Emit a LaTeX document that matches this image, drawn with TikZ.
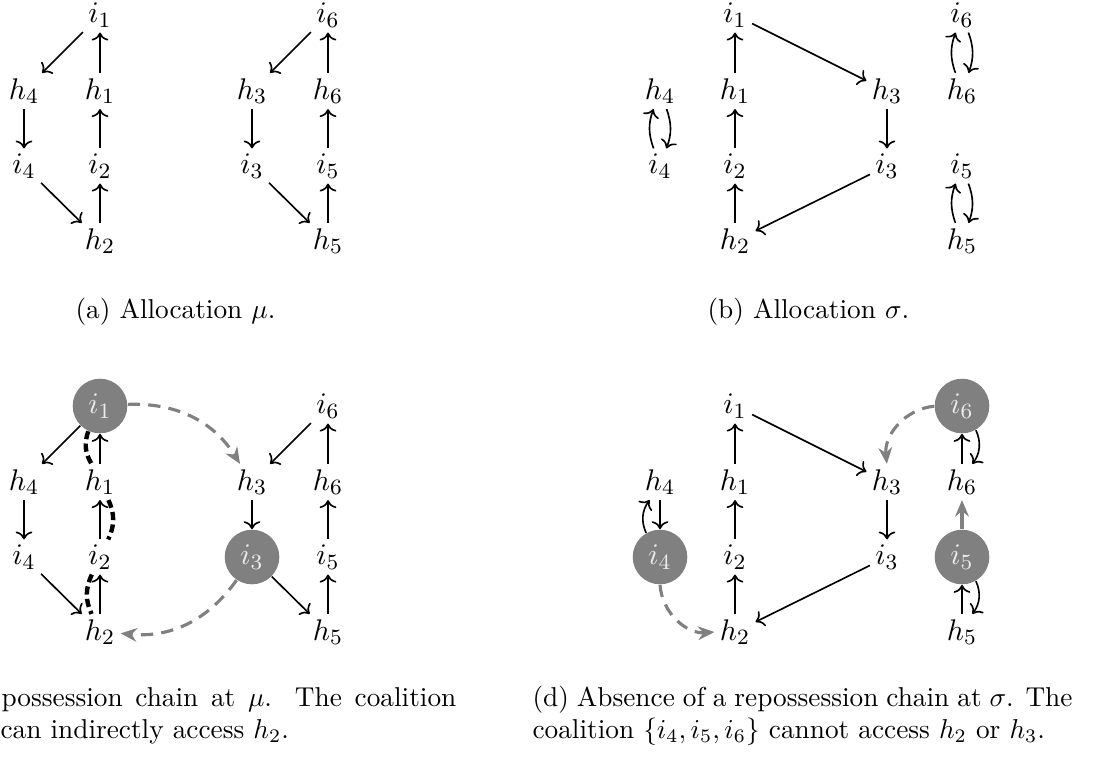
\documentclass[tikz,border=0pt]{standalone}
\usetikzlibrary{arrows.meta}
\begin{document}
\begin{tikzpicture}[x=0.3663pt,y=0.3663pt,
  every node/.style={font=\fontsize{11}{13}\selectfont, inner sep=1.8pt},
  ar/.style={->, line width=0.6pt},
  agent/.style={circle, fill=gray, text=white!85!gray, minimum size=20pt, inner sep=0pt},
  gd/.style={gray, line width=1.15pt, dash pattern=on 4.5pt off 3pt, -{Stealth[length=6pt,width=5pt]}},
  gs/.style={gray, line width=1.15pt, -{Stealth[length=6pt,width=5pt]}},
  chain/.style={line width=1.6pt, dash pattern=on 3pt off 1.6pt},
  captxt/.style={anchor=base west, inner sep=0pt, font=\fontsize{10}{12}\selectfont}]
\useasboundingbox (0,0) rectangle (1107,-757);
% ---------- (a)
\node (ai1) at (100,-15) {$i_1$};
\node (ah4) at (24,-91) {$h_4$};
\node (ah1) at (100,-91) {$h_1$};
\node (ai4) at (24,-166) {$i_4$};
\node (ai2) at (100,-166) {$i_2$};
\node (ah2) at (100,-241) {$h_2$};
\node (ai6) at (328,-15) {$i_6$};
\node (ah3) at (252,-91) {$h_3$};
\node (ah6) at (328,-91) {$h_6$};
\node (ai3) at (252,-166) {$i_3$};
\node (ai5) at (328,-166) {$i_5$};
\node (ah5) at (328,-241) {$h_5$};
\draw[ar] (ai1) -- (ah4);
\draw[ar] (ah1) -- (ai1);
\draw[ar] (ah4) -- (ai4);
\draw[ar] (ai2) -- (ah1);
\draw[ar] (ai4) -- (ah2);
\draw[ar] (ah2) -- (ai2);
\draw[ar] (ai6) -- (ah3);
\draw[ar] (ah6) -- (ai6);
\draw[ar] (ah3) -- (ai3);
\draw[ar] (ai5) -- (ah6);
\draw[ar] (ai3) -- (ah5);
\draw[ar] (ah5) -- (ai5);
\node[captxt] (capa) at (75,-318) {(a) Allocation $\mu$.};
% ---------- (b)
\node (bh4) at (660,-91) {$h_4$};
\node (bi4) at (660,-166) {$i_4$};
\node (bi1) at (735,-15) {$i_1$};
\node (bh1) at (735,-91) {$h_1$};
\node (bi2) at (735,-166) {$i_2$};
\node (bh2) at (735,-241) {$h_2$};
\node (bh3) at (887,-91) {$h_3$};
\node (bi3) at (887,-166) {$i_3$};
\node (bi6) at (962,-15) {$i_6$};
\node (bh6) at (962,-91) {$h_6$};
\node (bi5) at (962,-166) {$i_5$};
\node (bh5) at (962,-241) {$h_5$};
\draw[ar] (bh1) -- (bi1);
\draw[ar] (bi1) -- (bh3);
\draw[ar] (bh3) -- (bi3);
\draw[ar] (bi3) -- (bh2);
\draw[ar] (bh2) -- (bi2);
\draw[ar] (bi2) -- (bh1);
\draw[ar] (bh4) to[bend left=20] (bi4);
\draw[ar] (bi4) to[bend left=20] (bh4);
\draw[ar] (bi6) to[bend left=20] (bh6);
\draw[ar] (bh6) to[bend left=20] (bi6);
\draw[ar] (bi5) to[bend left=20] (bh5);
\draw[ar] (bh5) to[bend left=20] (bi5);
\node[captxt] (capb) at (707,-318) {(b) Allocation $\sigma$.};
% ---------- (c)
\node[agent] (ci1) at (100,-406) {$i_1$};
\node (ch4) at (24,-482) {$h_4$};
\node (ch1) at (100,-482) {$h_1$};
\node (ci4) at (24,-557) {$i_4$};
\node (ci2) at (100,-557) {$i_2$};
\node (ch2) at (100,-632) {$h_2$};
\node (ci6) at (328,-406) {$i_6$};
\node (ch3) at (252,-482) {$h_3$};
\node (ch6) at (328,-482) {$h_6$};
\node[agent] (ci3) at (252,-557) {$i_3$};
\node (ci5) at (328,-557) {$i_5$};
\node (ch5) at (328,-632) {$h_5$};
\draw[ar] (ci1) -- (ch4);
\draw[ar] (ch1) -- (ci1);
\draw[ar] (ch4) -- (ci4);
\draw[ar] (ci2) -- (ch1);
\draw[ar] (ci4) -- (ch2);
\draw[ar] (ch2) -- (ci2);
\draw[ar] (ci6) -- (ch3);
\draw[ar] (ch6) -- (ci6);
\draw[ar] (ch3) -- (ci3);
\draw[ar] (ci5) -- (ch6);
\draw[ar] (ci3) -- (ch5);
\draw[ar] (ch5) -- (ci5);
\draw[gd] (ci1) to[bend left=30] (ch3);
\draw[gd] (ci3) to[bend left=30] (ch2);
\draw[chain] (ci1) to[bend right=25] (ch1);
\draw[chain] (ch1) to[bend left=25] (ci2);
\draw[chain] (ci2) to[bend right=25] (ch2);
\node[captxt] (capc1) at (1,-706) {\makebox[166.6pt][s]{possession chain at $\mu$. The coalition}};
\node[captxt] (capc2) at (0,-738) {can indirectly access $h_2$.};
% ---------- (d)
\node (dh4) at (660,-482) {$h_4$};
\node[agent] (di4) at (660,-557) {$i_4$};
\node (di1) at (735,-406) {$i_1$};
\node (dh1) at (735,-482) {$h_1$};
\node (di2) at (735,-557) {$i_2$};
\node (dh2) at (735,-632) {$h_2$};
\node (dh3) at (887,-482) {$h_3$};
\node (di3) at (887,-557) {$i_3$};
\node[agent] (di6) at (962,-406) {$i_6$};
\node (dh6) at (962,-482) {$h_6$};
\node[agent] (di5) at (962,-557) {$i_5$};
\node (dh5) at (962,-632) {$h_5$};
\draw[ar] (dh1) -- (di1);
\draw[ar] (di1) -- (dh3);
\draw[ar] (dh3) -- (di3);
\draw[ar] (di3) -- (dh2);
\draw[ar] (dh2) -- (di2);
\draw[ar] (di2) -- (dh1);
\draw[ar] (dh4) -- (di4);
\draw[ar] (di4) to[bend left=30] (dh4);
\draw[ar] (dh6) -- (di6);
\draw[ar] (di6) to[bend left=30] (dh6);
\draw[ar] (dh5) -- (di5);
\draw[ar] (di5) to[bend left=30] (dh5);
\draw[gs] (di5) -- (dh6);
\draw[gd] (di6) to[bend right=45] (dh3);
\draw[gd] (di4) to[bend right=45] (dh2);
\node[captxt] (capd1) at (532,-706) {\makebox[197.8pt][s]{(d) Absence of a repossession chain at $\sigma$. The}};
\node[captxt] (capd2) at (532,-738) {coalition $\{i_4,i_5,i_6\}$ cannot access $h_2$ or $h_3$.};
\end{tikzpicture}
\end{document}
